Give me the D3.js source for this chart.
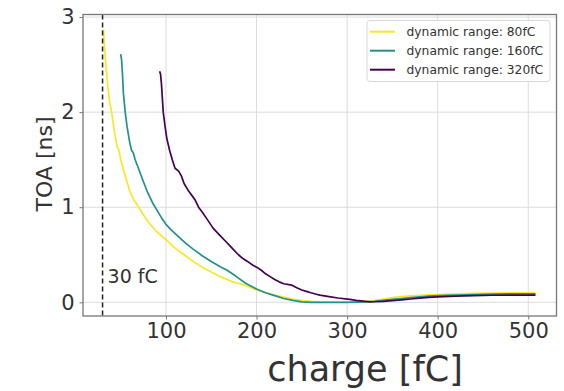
<!DOCTYPE html>
<html>
<head>
<meta charset="utf-8">
<script src="https://cdn.jsdelivr.net/npm/d3@7"></script>
<style>
html,body{margin:0;padding:0;background:#fff;}
svg{display:block;font-family:"DejaVu Sans",sans-serif;}
</style>
</head>
<body>
<svg id="chart" width="564" height="391"></svg>
<script>
// ---- data ----
const seriesNames = ["dynamic range: 80fC", "dynamic range: 160fC", "dynamic range: 320fC"];
const seriesColors = ["#fde725", "#21918c", "#440154"];

const x80 = [31, 32, 34, 36, 38, 40, 43, 46, 48, 50, 53, 56, 60, 65, 70, 75, 80, 88, 95, 100, 110, 120, 130, 140, 150, 160, 170, 175, 180, 190, 200, 210, 220, 230, 240, 250, 260, 270, 280, 290, 300, 310, 320, 330, 340, 350, 360, 370, 380, 390, 400, 420, 440, 460, 480, 500, 508];
const y80 = [2.87, 2.7, 2.45, 2.25, 2.1, 2.0, 1.8, 1.64, 1.6, 1.5, 1.4, 1.3, 1.17, 1.07, 1.0, 0.92, 0.85, 0.76, 0.7, 0.66, 0.57, 0.5, 0.43, 0.37, 0.32, 0.27, 0.23, 0.21, 0.2, 0.17, 0.13, 0.1, 0.075, 0.055, 0.035, 0.02, 0.01, 0.005, 0.003, 0.002, 0.003, 0.005, 0.01, 0.02, 0.035, 0.05, 0.06, 0.068, 0.074, 0.078, 0.082, 0.088, 0.094, 0.098, 0.1, 0.1, 0.1];

const x160 = [50, 51, 52, 53, 55, 57, 60, 62, 64, 66, 70, 75, 80, 85, 90, 95, 100, 106, 115, 122, 130, 140, 150, 160, 167, 175, 180, 188, 200, 210, 220, 230, 240, 250, 260, 270, 280, 290, 300, 310, 320, 330, 340, 350, 360, 370, 380, 390, 400, 420, 440, 460, 480, 500, 508];
const y160 = [2.61, 2.55, 2.4, 2.2, 2.0, 1.85, 1.68, 1.6, 1.57, 1.5, 1.4, 1.27, 1.15, 1.05, 0.97, 0.89, 0.82, 0.76, 0.68, 0.62, 0.56, 0.49, 0.43, 0.375, 0.34, 0.29, 0.255, 0.2, 0.14, 0.1, 0.07, 0.04, 0.02, 0.005, 0.0, 0.0, 0.0, 0.0, 0.0, 0.002, 0.005, 0.01, 0.02, 0.03, 0.04, 0.05, 0.058, 0.065, 0.07, 0.077, 0.082, 0.086, 0.088, 0.088, 0.088];

const x320 = [93, 94, 95, 96, 97, 99, 101, 104, 107, 110, 114, 117, 120, 125, 132, 136, 140, 145, 152, 159, 165, 171, 174, 180, 185, 190, 196, 200, 205, 210, 215, 220, 225, 230, 239, 245, 250, 255, 260, 266, 270, 280, 290, 303, 310, 320, 325, 330, 340, 350, 360, 370, 380, 390, 400, 420, 440, 460, 480, 500, 508];
const y320 = [2.43, 2.4, 2.3, 2.15, 2.0, 1.85, 1.72, 1.6, 1.5, 1.41, 1.38, 1.33, 1.25, 1.17, 1.08, 1.0, 0.95, 0.88, 0.78, 0.71, 0.65, 0.59, 0.56, 0.5, 0.46, 0.43, 0.39, 0.37, 0.34, 0.3, 0.27, 0.24, 0.215, 0.195, 0.18, 0.15, 0.13, 0.115, 0.1, 0.085, 0.075, 0.06, 0.045, 0.03, 0.02, 0.01, 0.005, 0.006, 0.01, 0.017, 0.025, 0.035, 0.045, 0.052, 0.058, 0.065, 0.07, 0.074, 0.076, 0.075, 0.075];

const xTicks = [100, 200, 300, 400, 500];
const yTicks = [0, 1, 2, 3];
const thresholdCharge = 30;
const thresholdLabel = "30 fC";
const xLabel = "charge [fC]";
const yLabel = "TOA [ns]";

// ---- layout ----
const svg = d3.select("#chart");
const L = 83, R = 556.5, T = 14.5, B = 316;
const x = d3.scaleLinear().domain([8.4, 531.2]).range([L, R]);
const y = d3.scaleLinear().domain([-0.144, 3.027]).range([B, T]);

// grid
const grid = svg.append("g");
grid.selectAll("line.gx").data(xTicks).enter().append("line")
  .attr("x1", d => x(d)).attr("x2", d => x(d)).attr("y1", T).attr("y2", B)
  .attr("stroke", "#dcdcdc").attr("stroke-width", 1);
grid.selectAll("line.gy").data(yTicks).enter().append("line")
  .attr("x1", L).attr("x2", R).attr("y1", d => y(d)).attr("y2", d => y(d))
  .attr("stroke", "#dcdcdc").attr("stroke-width", 1);

// axes
const xAxis = svg.append("g").attr("transform", `translate(0,${B})`)
  .call(d3.axisBottom(x).tickValues(xTicks).tickSize(3.5).tickPadding(4).tickFormat(d3.format("d")));
const yAxis = svg.append("g").attr("transform", `translate(${L},0)`)
  .call(d3.axisLeft(y).tickValues(yTicks).tickSize(3.5).tickPadding(5).tickFormat(d3.format("d")));
[xAxis, yAxis].forEach(a => {
  a.select(".domain").remove();
  a.selectAll(".tick line").attr("stroke", "#777");
  a.selectAll(".tick text").attr("fill", "#333").style("font-size", "21px").style("font-family", "DejaVu Sans");
});

// series
const line = d3.line().x(d => x(d[0])).y(d => y(d[1]));
const series = [[x80, y80], [x160, y160], [x320, y320]];
series.forEach((s, i) => {
  svg.append("path").datum(d3.zip(s[0], s[1]))
    .attr("d", line).attr("fill", "none")
    .attr("stroke", seriesColors[i]).attr("stroke-width", 1.7)
    .attr("stroke-linejoin", "round");
});

// threshold line
svg.append("line").attr("x1", x(thresholdCharge)).attr("x2", x(thresholdCharge))
  .attr("y1", T).attr("y2", B).attr("stroke", "#222").attr("stroke-width", 1.5)
  .attr("stroke-dasharray", "5,3");
svg.append("text").attr("x", x(thresholdCharge) + 5).attr("y", 283)
  .attr("fill", "#333").style("font-size", "19px").text(thresholdLabel);

// frame
svg.append("rect").attr("x", L).attr("y", T).attr("width", R - L).attr("height", B - T)
  .attr("fill", "none").attr("stroke", "#777").attr("stroke-width", 1.3);

// legend
const lg = svg.append("g");
lg.append("rect").attr("x", 367).attr("y", 20.5).attr("width", 183).attr("height", 61)
  .attr("rx", 3).attr("fill", "#fff").attr("fill-opacity", 0.85)
  .attr("stroke", "#d8d8d8").attr("stroke-width", 1);
const ly = [31.7, 50.7, 69.7];
seriesNames.forEach((n, i) => {
  lg.append("line").attr("x1", 370).attr("x2", 395).attr("y1", ly[i]).attr("y2", ly[i])
    .attr("stroke", seriesColors[i]).attr("stroke-width", 2);
  lg.append("text").attr("x", 406.5).attr("y", ly[i] + 4.4)
    .attr("fill", "#333").style("font-size", "12.3px").text(n);
});

// axis labels
svg.append("text").attr("x", 365).attr("y", 381).attr("text-anchor", "middle")
  .attr("fill", "#333").style("font-size", "35px").text(xLabel);
svg.append("text").attr("transform", "translate(52,164) rotate(-90)")
  .attr("text-anchor", "middle").attr("fill", "#333").style("font-size", "22px").text(yLabel);
</script>
</body>
</html>
